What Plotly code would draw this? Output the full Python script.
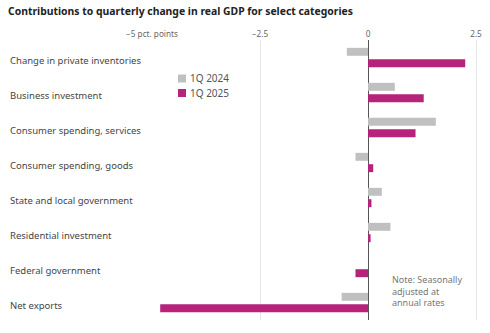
import plotly.graph_objects as go

categories = [
    "Change in private inventories",
    "Business investment",
    "Consumer spending, services",
    "Consumer spending, goods",
    "State and local government",
    "Residential investment",
    "Federal government",
    "Net exports",
]
series_names = ["1Q 2024", "1Q 2025"]
q1_2024 = [-0.49, 0.62, 1.57, -0.29, 0.32, 0.52, 0.0, -0.61]
q1_2025 = [2.25, 1.29, 1.10, 0.12, 0.08, 0.06, -0.29, -4.81]
tick_vals = [-5, -2.5, 0, 2.5]
tick_text = ["\u22125 pct. points", "\u22122.5", "0", "2.5"]

GRAY = "#c0c0c0"
MAGENTA = "#b5237a"
FONT = "Noto Sans"
colors = [GRAY, MAGENTA]

# plot-area pixel helpers (plot area: x 152..484, y 40..320)
def px(x):
    return (x - 152) / 332

def py(y):
    return 1 - (y - 40) / 280

fig = go.Figure()
for name, vals, col in zip(series_names, [q1_2024, q1_2025], colors):
    fig.add_trace(go.Bar(y=categories, x=vals, orientation="h", name=name,
                         marker=dict(color=col, line=dict(width=0)),
                         showlegend=False))

for c in categories:
    fig.add_annotation(xref="paper", yref="y", x=px(7.5), y=c, text=c,
                       xanchor="left", yanchor="middle", showarrow=False,
                       yshift=-3, font=dict(family=FONT, size=9.5, color="#454545"))

# legend (swatch + label)
for i, (name, col) in enumerate(zip(series_names, colors)):
    yc = 78.5 + 14.5 * i
    fig.add_shape(type="rect", xref="paper", yref="paper",
                  x0=px(178), x1=px(186), y0=py(yc + 4), y1=py(yc - 4),
                  fillcolor=col, line=dict(width=0))
    fig.add_annotation(xref="paper", yref="paper", x=px(188), y=py(yc), text=name,
                       xanchor="left", yanchor="middle", showarrow=False,
                       font=dict(family=FONT, size=10, color="#555555"))

fig.add_annotation(xref="paper", yref="paper", x=px(390), y=0.175,
                   text="Note: Seasonally<br>adjusted at<br>annual rates",
                   xanchor="left", yanchor="top", align="left", showarrow=False,
                   font=dict(family=FONT, size=9, color="#777777"))

fig.update_layout(
    width=490, height=333,
    margin=dict(l=152, r=6, t=40, b=13),
    paper_bgcolor="white", plot_bgcolor="white",
    barmode="group", bargap=0.35, bargroupgap=0.3,
    title=dict(text="<b>Contributions to quarterly change in real GDP for select categories</b>",
               x=8/490, xanchor="left", y=1 - 11/333, yanchor="middle",
               font=dict(family=FONT, size=10.4, color="#222222")),
    font=dict(family=FONT),
    showlegend=False,
    xaxis=dict(side="top", range=[-5, 2.685], tickvals=tick_vals, ticktext=tick_text,
               showgrid=True, gridcolor="#e6e6e6", gridwidth=1,
               zeroline=True, zerolinecolor="#555555", zerolinewidth=1,
               ticks="", tickfont=dict(family=FONT, size=8.2, color="#666666"),
               fixedrange=True),
    yaxis=dict(autorange="reversed", showticklabels=False, showgrid=False,
               zeroline=False, ticks="", fixedrange=True),
)

fig.write_html("out.html")
